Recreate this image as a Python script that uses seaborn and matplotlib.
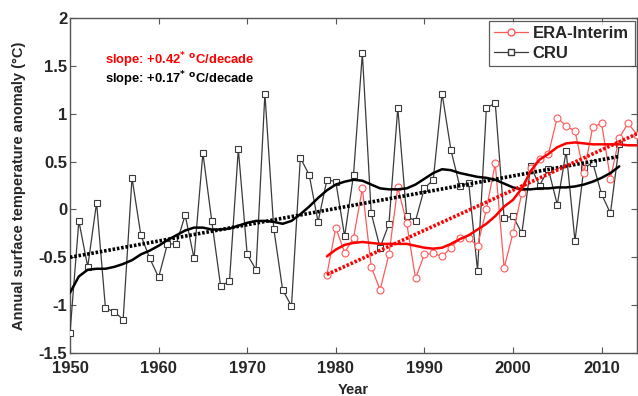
import numpy as np
import pandas as pd
import seaborn as sns
import matplotlib
matplotlib.use("Agg")
import matplotlib.pyplot as plt
from matplotlib.lines import Line2D

# ---- data ----
cru_years = list(range(1950, 2013))
cru_values = [-1.29, -0.12, -0.60, 0.07, -1.03, -1.07, -1.15, 0.33, -0.27, -0.51,
              -0.71, -0.36, -0.36, -0.06, -0.51, 0.59, -0.12, -0.80, -0.75, 0.63,
              -0.47, -0.63, 1.21, -0.20, -0.84, -1.01, 0.54, 0.36, -0.13, 0.31,
              0.29, -0.28, 0.36, 1.63, -0.04, -0.40, -0.15, 1.06, -0.07, -0.12,
              0.22, 0.31, 1.21, 0.62, 0.24, 0.28, -0.64, 1.06, 1.11, -0.09,
              -0.07, -0.25, 0.45, 0.25, 0.42, 0.05, 0.61, -0.33, 0.43, 0.49,
              0.16, -0.04, 0.68]
cru_smooth = [-0.87, -0.70, -0.63, -0.62, -0.62, -0.60, -0.57, -0.53, -0.47, -0.43,
              -0.38, -0.32, -0.27, -0.22, -0.19, -0.19, -0.21, -0.21, -0.20, -0.17,
              -0.14, -0.12, -0.12, -0.13, -0.15, -0.12, -0.05, 0.03, 0.12, 0.20,
              0.26, 0.29, 0.31, 0.30, 0.26, 0.22, 0.21, 0.21, 0.22, 0.26,
              0.32, 0.38, 0.42, 0.41, 0.38, 0.36, 0.34, 0.33, 0.31, 0.27,
              0.23, 0.21, 0.21, 0.22, 0.22, 0.23, 0.23, 0.24, 0.26, 0.29,
              0.33, 0.38, 0.45]

era_years = list(range(1979, 2015))
era_values = [-0.68, -0.19, -0.45, -0.30, 0.22, -0.60, -0.84, -0.47, 0.23, -0.14,
              -0.72, -0.47, -0.46, -0.49, -0.40, -0.30, -0.30, -0.38, 0.00, 0.48,
              -0.61, -0.25, 0.17, 0.43, 0.53, 0.58, 0.96, 0.87, 0.82, 0.38,
              0.86, 0.90, 0.32, 0.75, 0.90, 0.78]
era_smooth = [-0.49, -0.42, -0.37, -0.35, -0.34, -0.35, -0.36, -0.36, -0.36, -0.36,
              -0.38, -0.40, -0.41, -0.40, -0.36, -0.31, -0.27, -0.21, -0.15, -0.07,
              0.03, 0.10, 0.22, 0.40, 0.52, 0.58, 0.65, 0.69, 0.70, 0.69,
              0.68, 0.68, 0.68, 0.68, 0.67, 0.67]

# linear trends: slopes from the annotations (per year), start values
cru_slope, cru_start = 0.017, -0.50
era_slope, era_start = 0.042, -0.68

x_ticks = [1950, 1960, 1970, 1980, 1990, 2000, 2010]
y_ticks = [-1.5, -1, -0.5, 0, 0.5, 1, 1.5, 2]
y_ticklabels = ["-1.5", "-1", "-0.5", "0", "0.5", "1", "1.5", "2"]

cru_trend = [cru_start + cru_slope * (y - cru_years[0]) for y in cru_years]
era_trend = [era_start + era_slope * (y - era_years[0]) for y in era_years]

# ---- drawing ----
sns.set_style("white")
plt.rcParams['font.family'] = ['Liberation Sans', 'DejaVu Sans']
plt.rcParams['font.weight'] = 'bold'
plt.rcParams['mathtext.default'] = 'bf'

fig = plt.figure(figsize=(6.38, 3.96), dpi=100)
ax = fig.add_axes([70 / 638, 1 - 353 / 396, 567 / 638, 335 / 396])

red_light = "#ff5a5a"
red = "#ff0000"
grey = "#3a3a3a"

cru_df = pd.DataFrame({"year": cru_years, "value": cru_values,
                       "smooth": cru_smooth, "trend": cru_trend})
era_df = pd.DataFrame({"year": era_years, "value": era_values,
                       "smooth": era_smooth, "trend": era_trend})

sns.lineplot(data=cru_df, x="year", y="value", ax=ax, color=grey, lw=0.9,
             marker="s", markersize=4.5, markerfacecolor="white",
             markeredgecolor=grey, markeredgewidth=0.8, zorder=3)
sns.lineplot(data=era_df, x="year", y="value", ax=ax, color=red_light, lw=0.9,
             marker="o", markersize=5, markerfacecolor="white",
             markeredgecolor=red_light, markeredgewidth=0.8, zorder=4)

sns.lineplot(data=cru_df, x="year", y="smooth", ax=ax, color="black", lw=1.8, zorder=5)
sns.lineplot(data=cru_df, x="year", y="trend", ax=ax, color="black", lw=2.6,
             linestyle=(0, (0.7, 0.5)), zorder=5)
sns.lineplot(data=era_df, x="year", y="smooth", ax=ax, color=red, lw=1.8, zorder=6)
sns.lineplot(data=era_df, x="year", y="trend", ax=ax, color=red, lw=2.6,
             linestyle=(0, (0.7, 0.5)), zorder=6)

ax.set_xlim(1950, 2014)
ax.set_ylim(-1.5, 2)
ax.set_xticks(x_ticks)
ax.set_xticklabels([str(t) for t in x_ticks], fontsize=12, fontweight='bold')
ax.set_yticks(y_ticks)
ax.set_yticklabels(y_ticklabels, fontsize=12, fontweight='bold')
ax.tick_params(direction='in', length=4, width=0.8, color="#555555",
               top=True, right=True, bottom=True, left=True)
ax.tick_params(axis='x', pad=6)
ax.tick_params(axis='y', pad=2)
for s in ax.spines.values():
    s.set_visible(True)
    s.set_color("#555555")
    s.set_linewidth(1.0)

ax.set_xlabel("Year", fontsize=10.5, fontweight='bold', labelpad=5)
ax.set_ylabel("Annual surface temperature anomaly (°C)", fontsize=10.5,
              fontweight='bold', labelpad=9)

ax.text(0.062, 0.875, r"slope: +0.42$^{*}$ $^{o}$C/decade", transform=ax.transAxes,
        color=red, fontsize=9.4, fontweight='bold', va='center', ha='left')
ax.text(0.062, 0.818, r"slope: +0.17$^{*}$ $^{o}$C/decade", transform=ax.transAxes,
        color="black", fontsize=9.4, fontweight='bold', va='center', ha='left')

handles = [Line2D([], [], color=red_light, lw=0.9, marker="o", markersize=5,
                  markerfacecolor="white", markeredgecolor=red_light),
           Line2D([], [], color=grey, lw=0.9, marker="s", markersize=4.5,
                  markerfacecolor="white", markeredgecolor=grey)]
leg = ax.legend(handles, ["ERA-Interim", "CRU"], loc="upper right",
                prop={'weight': 'bold', 'size': 12}, frameon=True, fancybox=False,
                borderaxespad=0.15, handlelength=2.0, handletextpad=0.3,
                labelspacing=0.25, borderpad=0.35)
leg.get_frame().set_edgecolor("#333333")
leg.get_frame().set_linewidth(0.9)

fig.savefig("out.png", dpi=100)
